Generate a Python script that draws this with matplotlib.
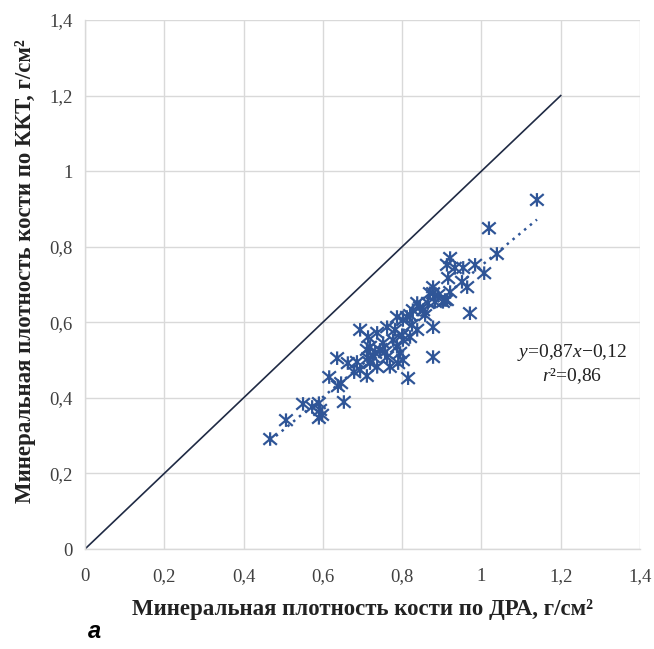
import numpy as np
import matplotlib
matplotlib.use("Agg")
import matplotlib.pyplot as plt
from matplotlib.path import Path

plt.rcParams['font.family'] = ['Liberation Serif', 'DejaVu Serif']
plt.rcParams['mathtext.fontset'] = 'custom'
plt.rcParams['mathtext.rm'] = 'Liberation Serif'
plt.rcParams['mathtext.it'] = 'Liberation Serif:italic'

dxa = [0.467, 0.507, 0.550, 0.573, 0.590, 0.593, 0.590, 0.598, 0.616, 0.636,
       0.653, 0.638, 0.646, 0.663, 0.679, 0.686, 0.694, 0.711, 0.714, 0.711,
       0.719, 0.719, 0.714, 0.732, 0.727, 0.737, 0.737, 0.752, 0.762, 0.762,
       0.769, 0.787, 0.787, 0.795, 0.802, 0.802, 0.802, 0.815, 0.820, 0.820,
       0.812, 0.827, 0.838, 0.838, 0.845, 0.853, 0.865, 0.870, 0.878, 0.878,
       0.878, 0.878, 0.883, 0.903, 0.908, 0.913, 0.913, 0.916, 0.921, 0.921,
       0.933, 0.951, 0.954, 0.964, 0.971, 0.984, 1.007, 1.039, 1.019, 1.140,
       0.744, 0.777, 0.757, 0.782, 0.800, 0.790, 0.825, 0.858, 0.891, 0.694]
qct = [0.291, 0.341, 0.384, 0.376, 0.386, 0.368, 0.347, 0.355, 0.455, 0.505,
       0.389, 0.431, 0.439, 0.492, 0.468, 0.495, 0.580, 0.458, 0.561, 0.527,
       0.492, 0.535, 0.505, 0.519, 0.508, 0.572, 0.482, 0.545, 0.587, 0.508,
       0.482, 0.614, 0.535, 0.519, 0.606, 0.553, 0.500, 0.452, 0.619, 0.561,
       0.614, 0.632, 0.651, 0.580, 0.640, 0.632, 0.651, 0.677, 0.693, 0.677,
       0.587, 0.508, 0.654, 0.654, 0.659, 0.752, 0.659, 0.717, 0.770, 0.680,
       0.744, 0.707, 0.744, 0.693, 0.624, 0.752, 0.730, 0.781, 0.849, 0.924,
       0.527, 0.553, 0.521, 0.580, 0.566, 0.492, 0.593, 0.619, 0.672, 0.474]

slope = 0.87
intercept = -0.12
identity = [0, 1.2]
ticks = [0, 0.2, 0.4, 0.6, 0.8, 1.0, 1.2, 1.4]
tick_labels = ['0', '0,2', '0,4', '0,6', '0,8', '1', '1,2', '1,4']

# Excel-style star marker: X plus vertical stroke
star = Path([(-1, -0.85), (1, 0.85), (-1, 0.85), (1, -0.85), (0, -1), (0, 1)],
            [Path.MOVETO, Path.LINETO, Path.MOVETO, Path.LINETO, Path.MOVETO, Path.LINETO])

fig = plt.figure(figsize=(6.54, 6.49), dpi=100)
ax = fig.add_axes([85/654, 100/649, 555/654, 529/649])

ax.set_xlim(0, 1.4)
ax.set_ylim(0, 1.4)
ax.set_xticks(ticks)
ax.set_yticks(ticks)
ax.set_xticklabels(tick_labels)
ax.set_yticklabels(tick_labels)
ax.grid(True, color='#d9d9d9', linewidth=1.0)
ax.set_axisbelow(True)
for s in ['top', 'right']:
    ax.spines[s].set_visible(False)
for s in ['left', 'bottom']:
    ax.spines[s].set_color('#d9d9d9')
    ax.spines[s].set_linewidth(1.0)
ax.tick_params(axis='x', length=0, labelsize=13.5, colors='#404040', pad=14)
ax.tick_params(axis='y', length=0, labelsize=13.5, colors='#404040', pad=9)

ax.plot(identity, identity, color='#1f2a44', linewidth=1.2, zorder=2)

xf = np.array([min(dxa), max(dxa)])
ax.plot(xf, slope * xf + intercept, linestyle=(0, (1, 2)), color='#2f5597',
        linewidth=1.8, zorder=3)

ax.scatter(dxa, qct, marker=star, s=95, facecolors='none', edgecolors='#2f5597',
           linewidths=1.6, zorder=4)

ax.text(1.229, 0.519, r'$y$=0,87$x$−0,12', ha='center', va='center', fontsize=14, color='#222222')
ax.text(1.229, 0.458, r'$r$²=0,86', ha='center', va='center', fontsize=14, color='#222222')

ax.set_xlabel('Минеральная плотность кости по ДРА, г/см²', fontsize=16.5, fontweight='bold',
              labelpad=10, color='#222222')
ax.set_ylabel('Минеральная плотность кости по ККТ, г/см²', fontsize=16.5, fontweight='bold',
              color='#222222')
ax.yaxis.set_label_coords(-0.088, 0.525)

fig.text(88/654, 1 - 632/649, 'а', fontsize=17, fontweight='bold', style='italic',
         family='Liberation Sans', ha='left', va='center')

fig.savefig('out.png', dpi=100)
